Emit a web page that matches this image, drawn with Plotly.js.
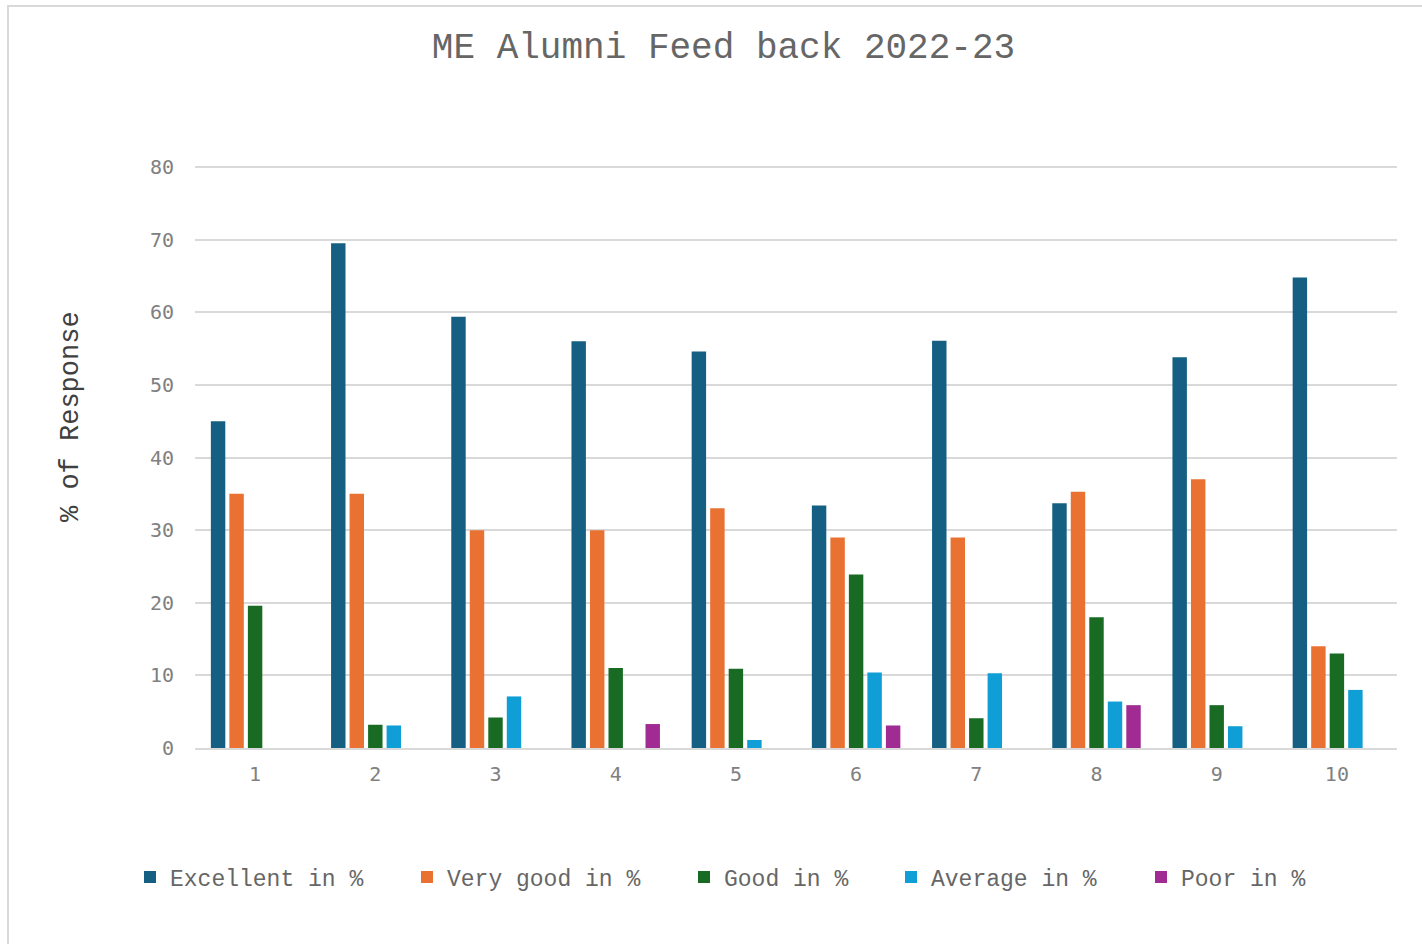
<!DOCTYPE html>
<html>
<head>
<meta charset="utf-8">
<script src="https://cdn.plot.ly/plotly-3.0.1.min.js"></script>
<style>
  html, body { margin:0; padding:0; background:#fff; overflow:hidden; width:1422px; height:944px; }
  #frame { position:absolute; left:7px; top:5px; width:1500px; height:1000px; border:2px solid #d9d9d9; box-sizing:border-box; }
  #chart { position:absolute; left:0; top:0; width:1422px; height:944px; }
</style>
</head>
<body>
<div id="frame"></div>
<div id="chart"></div>
<script>
const categories = ["1","2","3","4","5","6","7","8","9","10"];
const seriesNames = ["Excellent in %","Very good in %","Good in %","Average in %","Poor in %"];
const excellent = [45, 69.5, 59.4, 56, 54.6, 33.4, 56.1, 33.7, 53.8, 64.8];
const veryGood  = [35, 35, 30, 30, 33, 29, 29, 35.3, 37, 14];
const good      = [19.6, 3.2, 4.2, 11, 10.9, 23.9, 4.1, 18, 5.9, 13];
const average   = [0, 3.1, 7.1, 0, 1.1, 10.4, 10.3, 6.4, 3, 8];
const poor      = [0, 0, 0, 3.3, 0, 3.1, 0, 5.9, 0, 0];
const yTicks = [0,10,20,30,40,50,60,70,80];

const seriesValues = [excellent, veryGood, good, average, poor];
const colors = ["#156082","#E97132","#196B24","#0F9ED5","#A02B93"];
const legendIds = ["legend","legend2","legend3","legend4","legend5"];

const data = seriesValues.map((vals, i) => ({
  type: "bar",
  name: seriesNames[i],
  x: categories,
  y: vals,
  marker: { color: colors[i], line: { width: 0 } },
  legend: legendIds[i],
  hoverinfo: "x+y+name"
}));

const W = 1422, H = 944;
const plotL = 195, plotR = 1397, plotT = 166, plotB = 748;
const pw = plotR - plotL, ph = plotB - plotT;
const legendTextLeft = [168, 445, 722, 929, 1179];
const legendY = 877;
const legendFont = { family: "Liberation Mono, Courier New, monospace", size: 23, color: "#666666" };

const layout = {
  width: W, height: H,
  paper_bgcolor: "rgba(0,0,0,0)",
  plot_bgcolor: "rgba(0,0,0,0)",
  margin: { l: plotL, r: W - plotR, t: plotT, b: H - plotB, pad: 0 },
  barmode: "group",
  bargap: 0.23,
  bargroupgap: 0.22,
  title: {
    text: "ME Alumni Feed back 2022-23",
    font: { family: "Liberation Mono, Courier New, monospace", size: 36, color: "#666666" },
    xref: "container", yref: "container",
    x: 723.5 / W, xanchor: "center",
    y: 1 - 45 / H, yanchor: "middle"
  },
  xaxis: {
    type: "category",
    showgrid: false,
    showline: true, linecolor: "#d9d9d9", linewidth: 2,
    ticks: "",
    ticklabelstandoff: 7,
    tickfont: { family: "DejaVu Sans Mono, monospace", size: 20, color: "#808080" },
    zeroline: false
  },
  yaxis: {
    range: [0, 80.15],
    tickvals: yTicks,
    ticktext: yTicks.map(String),
    showgrid: true, gridcolor: "#d9d9d9", gridwidth: 1.5,
    showline: false, zeroline: false,
    ticks: "",
    ticklabelstandoff: 20,
    tickfont: { family: "DejaVu Sans Mono, monospace", size: 20, color: "#808080" }
  },
  annotations: [{
    text: "% of Response",
    textangle: -90,
    xref: "paper", yref: "paper",
    x: (71 - plotL) / pw, y: (plotB - 417) / ph,
    xanchor: "center", yanchor: "middle",
    showarrow: false,
    font: { family: "Liberation Mono, Courier New, monospace", size: 27, color: "#404040" }
  }],
  showlegend: true
};

legendIds.forEach((id, i) => {
  layout[id] = {
    orientation: "h",
    xref: "paper", yref: "paper",
    x: (legendTextLeft[i] - 38 - plotL) / pw,
    xanchor: "left",
    y: (plotB - legendY) / ph,
    yanchor: "middle",
    font: legendFont,
    bgcolor: "rgba(0,0,0,0)",
    borderwidth: 0,
    itemclick: false, itemdoubleclick: false
  };
});

Plotly.newPlot("chart", data, layout, { displayModeBar: false, staticPlot: false });
</script>
</body>
</html>
